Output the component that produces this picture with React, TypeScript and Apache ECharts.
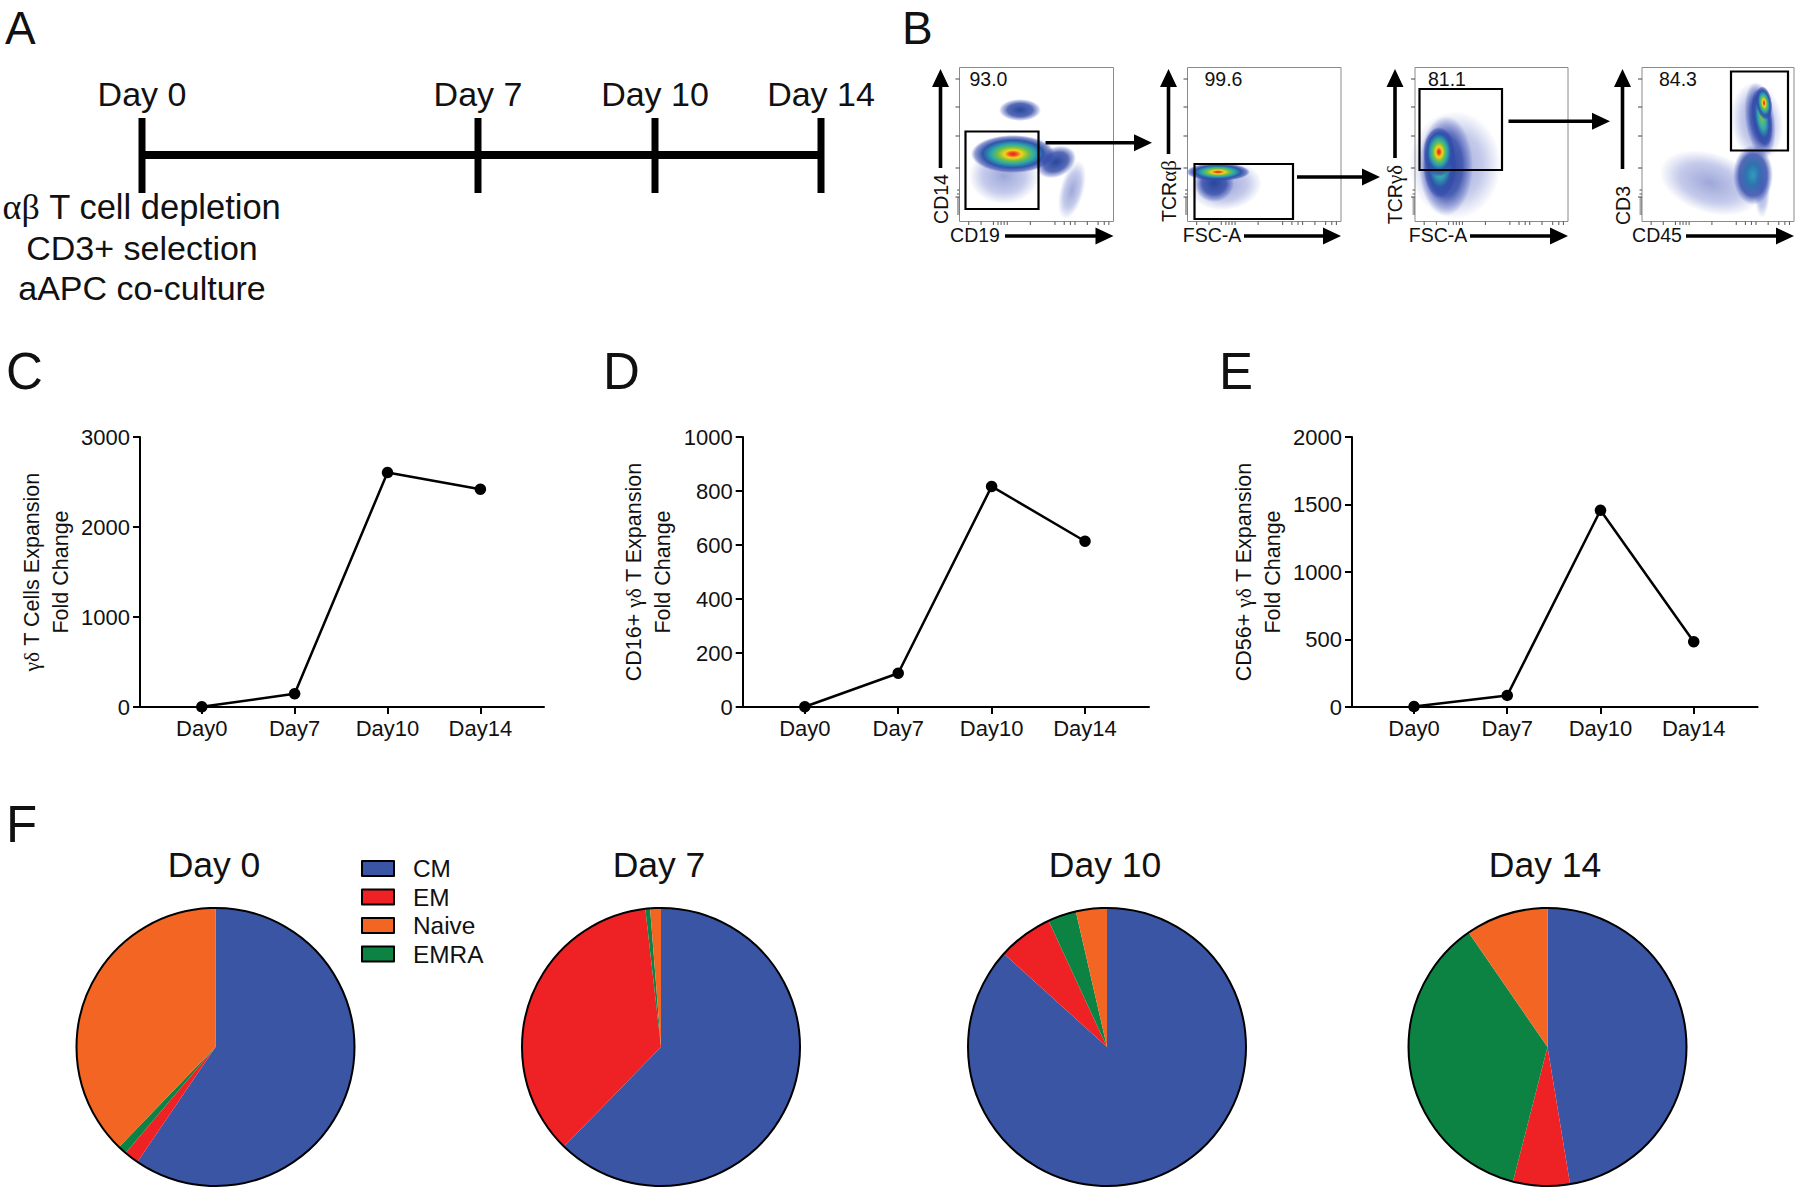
import React, { useEffect, useRef } from "react";
import * as echarts from "echarts";

const timePoints = ["Day0", "Day7", "Day10", "Day14"];
const gdExpansion = [2, 148, 2605, 2420];
const cd16Expansion = [1, 125, 817, 614];
const cd56Expansion = [3, 86, 1457, 484];

const subsets = ["CM", "EM", "EMRA", "Naive"];
const legendOrder = ["CM", "EM", "Naive", "EMRA"];
const subsetColors = ["#3A55A4", "#EE2224", "#0C8343", "#F36523"];
const pieTitles = ["Day 0", "Day 7", "Day 10", "Day 14"];
const day0Shares = [59.5, 1.7, 1.0, 37.8];
const day7Shares = [62.3, 35.9, 0.55, 1.25];
const day10Shares = [86.7, 6.4, 3.3, 3.6];
const day14Shares = [47.4, 6.6, 36.4, 9.6];

const timelineLabels = ["Day 0", "Day 7", "Day 10", "Day 14"];
const gatePercents = ["93.0", "99.6", "81.1", "84.3"];

const SANS = '"Liberation Sans", Arial, sans-serif';
const SERIF = '"Liberation Serif", serif';
const INK = "#111111";

function txt(text: string, x: number, y: number, fontSize: number, extra: any = {}) {
  const { rotation, rich, align, ...rest } = extra;
  return {
    type: "text",
    x,
    y,
    rotation: rotation || 0,
    z: 20,
    style: {
      text,
      fill: INK,
      fontFamily: SANS,
      fontSize,
      align: align || "center",
      verticalAlign: "middle",
      rich,
      ...rest,
    },
  };
}

function hArrow(x1: number, x2: number, y: number, th = 3.6, hl = 18, hw = 17) {
  return {
    type: "polygon",
    z: 20,
    shape: {
      points: [
        [x1, y - th / 2],
        [x2 - hl, y - th / 2],
        [x2 - hl, y - hw / 2],
        [x2, y],
        [x2 - hl, y + hw / 2],
        [x2 - hl, y + th / 2],
        [x1, y + th / 2],
      ],
    },
    style: { fill: "#000" },
  };
}

function vArrow(x: number, y1: number, y2: number, th = 3.6, hl = 18, hw = 17) {
  return {
    type: "polygon",
    z: 20,
    shape: {
      points: [
        [x - th / 2, y1],
        [x - th / 2, y2 + hl],
        [x - hw / 2, y2 + hl],
        [x, y2],
        [x + hw / 2, y2 + hl],
        [x + th / 2, y2 + hl],
        [x + th / 2, y1],
      ],
    },
    style: { fill: "#000" },
  };
}

function bar(x1: number, y1: number, x2: number, y2: number, w: number, color = "#000", z = 15) {
  return { type: "line", z, shape: { x1, y1, x2, y2 }, style: { stroke: color, lineWidth: w } };
}

const STOPS: Record<string, [number, string][]> = {
  hot: [
    [0, "#e3201f"],
    [0.1, "#ef5a20"],
    [0.2, "#f3d31c"],
    [0.36, "#74c043"],
    [0.52, "#2aa6ae"],
    [0.72, "#2f56a8"],
    [0.9, "rgba(50,70,170,0.55)"],
    [1, "rgba(60,80,190,0)"],
  ],
  warm: [
    [0, "#7cc242"],
    [0.35, "#35abb0"],
    [0.65, "#2f56a8"],
    [0.88, "rgba(50,70,170,0.55)"],
    [1, "rgba(60,80,190,0)"],
  ],
  blue: [
    [0, "#27479c"],
    [0.6, "rgba(45,70,165,0.8)"],
    [0.85, "rgba(60,80,180,0.35)"],
    [1, "rgba(60,80,190,0)"],
  ],
  cyan: [
    [0, "#2f9dbb"],
    [0.35, "#2f73b0"],
    [0.7, "rgba(45,70,165,0.8)"],
    [1, "rgba(60,80,190,0)"],
  ],
  haze: [
    [0, "rgba(60,80,180,0.5)"],
    [0.6, "rgba(70,90,190,0.32)"],
    [1, "rgba(70,90,190,0)"],
  ],
};

function blob(cx: number, cy: number, rx: number, ry: number, kind: string, rotDeg = 0) {
  return {
    type: "ellipse",
    x: cx,
    y: cy,
    rotation: (rotDeg * Math.PI) / 180,
    z: 5,
    shape: { cx: 0, cy: 0, rx, ry },
    style: {
      fill: new echarts.graphic.RadialGradient(
        0.5,
        0.5,
        0.5,
        STOPS[kind].map(([offset, color]) => ({ offset, color }))
      ),
    },
  };
}

function frame(x1: number, x2: number) {
  return {
    type: "rect",
    z: 6,
    shape: { x: x1, y: 67.5, width: x2 - x1, height: 154 },
    style: { fill: "none", stroke: "#8a8a8a", lineWidth: 1 },
  };
}

function gate(x1: number, y1: number, x2: number, y2: number) {
  return {
    type: "rect",
    z: 12,
    shape: { x: x1, y: y1, width: x2 - x1, height: y2 - y1 },
    style: { fill: "none", stroke: "#000", lineWidth: 2.2 },
  };
}

function frameTicks(x1: number, x2: number) {
  const out: any[] = [];
  [11.5, 39.5, 68.5, 100.5, 129.5].forEach((d) => out.push(bar(x1 - 4, 67.5 + d, x1, 67.5 + d, 1, "#444", 7)));
  [4, 8, 12, 14, 16, 18, 20, 22, 24, 26, 28].forEach((d) =>
    out.push(bar(x1 - 2.5, 186 + d, x1, 186 + d, 1, "#555", 7))
  );
  const w = x2 - x1;
  [0.06, 0.14, 0.22, 0.25, 0.27, 0.29, 0.31, 0.46, 0.62, 0.68, 0.72, 0.75, 0.83, 0.9, 0.94, 0.97].forEach((f) =>
    out.push(bar(x1 + w * f, 221.5, x1 + w * f, 225, 1, "#555", 7))
  );
  return out;
}

function panelA() {
  const ticks = [142, 478, 655, 821];
  const parts: any[] = [bar(142, 155, 821, 155, 8)];
  ticks.forEach((x, i) => {
    parts.push(bar(x, 118, x, 193, 7));
    parts.push(txt(timelineLabels[i], x, 94, 34));
  });
  parts.push(
    txt("{s|αβ} T cell depletion", 142, 207, 34.5, {
      rich: { s: { fontFamily: SERIF, fontSize: 36, fill: INK } },
    })
  );
  parts.push(txt("CD3+ selection", 142, 248, 34));
  parts.push(txt("aAPC co-culture", 142, 288, 34));
  return parts;
}

function panelB() {
  const parts: any[] = [];
  const sr = { s: { fontFamily: SERIF, fontSize: 21, fill: INK } };
  // density clouds
  parts.push(
    blob(1020, 110, 21, 11, "blue"),
    blob(1004, 176, 35, 28, "haze"),
    blob(1013, 154, 42, 19, "hot"),
    blob(1056, 162, 21, 15, "blue", 25),
    blob(1072, 190, 12, 30, "haze", -15),

    blob(1226, 186, 36, 24, "haze", 8),
    blob(1214, 183, 20, 19, "blue"),
    blob(1218, 172, 32, 9, "hot"),

    blob(1455, 165, 46, 54, "haze"),
    blob(1446, 166, 27, 50, "blue"),
    blob(1440, 165, 17, 34, "warm"),
    blob(1439, 152, 16, 25, "hot"),

    blob(1710, 183, 52, 30, "haze", -18),
    blob(1753, 175, 20, 30, "cyan"),
    blob(1762, 190, 8, 28, "haze"),
    blob(1757, 122, 26, 40, "haze", 8),
    blob(1760, 120, 15, 38, "blue", 8),
    blob(1762, 118, 10, 30, "warm", 8),
    blob(1764, 103, 8, 17, "hot", 8)
  );
  // frames, gates and their ticks
  const frames: [number, number][] = [
    [959.5, 1113.5],
    [1187.5, 1341],
    [1415, 1568],
    [1642, 1794],
  ];
  frames.forEach(([a, b]) => {
    parts.push(frame(a, b), ...frameTicks(a, b));
  });
  parts.push(
    gate(965.5, 131.5, 1038.5, 209),
    gate(1194.5, 164, 1293, 219),
    gate(1419.5, 89, 1502, 170),
    gate(1731, 71.5, 1788, 150.5)
  );
  // percentages
  const pctX = [969.5, 1204.5, 1428, 1659];
  gatePercents.forEach((p, i) => parts.push(txt(p, pctX[i], 79, 19.5, { align: "left" })));
  // arrows between panels
  parts.push(hArrow(1045.5, 1152, 142.7), hArrow(1297, 1380, 177), hArrow(1508.5, 1610, 121.3));
  // axis arrows
  parts.push(vArrow(940.5, 168, 69), vArrow(1168.5, 154, 69), vArrow(1395, 158, 69), vArrow(1622.5, 169, 69));
  parts.push(hArrow(1005, 1113.5, 236), hArrow(1244, 1341, 236), hArrow(1470, 1568, 236), hArrow(1686, 1794, 236));
  // axis labels
  const up = Math.PI / 2;
  parts.push(
    txt("CD14", 940.5, 199, 19.5, { rotation: up }),
    txt("TCR{s|αβ}", 1168.5, 191, 19.5, { rotation: up, rich: sr }),
    txt("TCR{s|γδ}", 1395, 194.5, 19.5, { rotation: up, rich: sr }),
    txt("CD3", 1622.5, 205.5, 19.5, { rotation: up }),
    txt("CD19", 975, 235, 19.5),
    txt("FSC-A", 1212, 235, 19.5),
    txt("FSC-A", 1438, 235, 19.5),
    txt("CD45", 1657, 235, 19.5)
  );
  return parts;
}

function letters() {
  const items: [string, number, number, number][] = [
    ["A", 5, 27.5, 46],
    ["B", 902, 27.5, 46],
    ["C", 6, 371, 51],
    ["D", 603, 371, 51],
    ["E", 1219, 371, 51],
    ["F", 6, 824, 51],
  ];
  return items.map(([t, x, y, size]) => txt(t, x, y, size, { align: "left" }));
}

function App() {
  const ref = useRef<HTMLDivElement>(null);
  useEffect(() => {
    if (!ref.current) return;
    const chart = echarts.init(ref.current, undefined, { renderer: "svg" });
    const nameRich = {
      s: { fontFamily: SERIF, fontSize: 21.5, fill: INK },
      n: { fontFamily: SANS, fontSize: 21.5, fill: INK },
    };
    const panels = [
      {
        left: 140,
        width: 404,
        max: 3000,
        interval: 1000,
        values: gdExpansion,
        name: "{s|γδ} {n|T Cells Expansion}\n{n|Fold Change}",
      },
      {
        left: 742.7,
        width: 406.3,
        max: 1000,
        interval: 200,
        values: cd16Expansion,
        name: "{n|CD16+ }{s|γδ} {n|T Expansion}\n{n|Fold Change}",
      },
      {
        left: 1352,
        width: 405.6,
        max: 2000,
        interval: 500,
        values: cd56Expansion,
        name: "{n|CD56+ }{s|γδ} {n|T Expansion}\n{n|Fold Change}",
      },
    ];
    const axisLine = { show: true, onZero: false, lineStyle: { color: "#000", width: 2 } };
    const axisTick = { show: true, length: 7, lineStyle: { color: "#000", width: 2 } };
    const label = { color: INK, fontFamily: SANS, fontSize: 22 };
    const idx = timePoints.map((_, i) => i);

    const pieCenters = [215.5, 661, 1107, 1547.5];
    const pieShares = [day0Shares, day7Shares, day10Shares, day14Shares];
    const titleX = [209, 654, 1100, 1540];

    chart.setOption({
      animation: false,
      backgroundColor: "#fff",
      title: pieTitles.map((text, i) => ({
        text,
        left: titleX[i],
        top: 842,
        textAlign: "center",
        textStyle: { color: INK, fontFamily: SANS, fontSize: 35.5, fontWeight: "normal" },
      })),
      legend: {
        data: legendOrder,
        orient: "vertical",
        left: 356,
        top: 851.5,
        itemWidth: 32,
        itemHeight: 15,
        itemGap: 4.5,
        itemStyle: { borderColor: "#000", borderWidth: 2 },
        textStyle: { color: INK, fontFamily: SANS, fontSize: 24.4, padding: [0, 0, 0, 14] },
        selectedMode: false,
        icon: "rect",
      },
      grid: panels.map((p) => ({ left: p.left, width: p.width, top: 437, height: 270 })),
      xAxis: panels.map((_, i) => ({
        type: "value",
        gridIndex: i,
        min: -0.665,
        max: 3.685,
        splitLine: { show: false },
        axisLine,
        axisTick: { ...axisTick, customValues: idx },
        axisLabel: {
          ...label,
          margin: 10,
          customValues: idx,
          formatter: (v: number) => timePoints[v] ?? "",
        },
      })),
      yAxis: panels.map((p, i) => ({
        type: "value",
        gridIndex: i,
        min: 0,
        max: p.max,
        interval: p.interval,
        splitLine: { show: false },
        axisLine,
        axisTick,
        axisLabel: { ...label, margin: 10, formatter: (v: number) => String(v) },
        name: p.name,
        nameLocation: "middle",
        nameGap: 65,
        nameRotate: 90,
        nameTextStyle: { color: INK, fontFamily: SANS, fontSize: 21.5, lineHeight: 29, rich: nameRich },
      })),
      series: [
        ...panels.map((p, i) => ({
          type: "line",
          xAxisIndex: i,
          yAxisIndex: i,
          data: p.values.map((v, k) => [k, v]),
          symbol: "circle",
          symbolSize: 11.5,
          clip: false,
          lineStyle: { color: "#000", width: 2.5 },
          itemStyle: { color: "#000" },
          z: 5,
        })),
        ...pieShares.map((shares, i) => ({
          type: "pie",
          name: pieTitles[i],
          center: [pieCenters[i], 1047],
          radius: [0, 139],
          startAngle: 90,
          clockwise: true,
          label: { show: false },
          labelLine: { show: false },
          emphasis: { disabled: true },
          data: subsets.map((name, k) => ({
            name,
            value: shares[k],
            itemStyle: { color: subsetColors[k] },
          })),
        })),
      ],
      graphic: [
        ...letters(),
        ...panelA(),
        ...panelB(),
        ...pieCenters.map((cx) => ({
          type: "circle",
          z: 10,
          shape: { cx, cy: 1047, r: 139 },
          style: { fill: "none", stroke: "#000", lineWidth: 2 },
        })),
      ],
    });
    return () => chart.dispose();
  }, []);
  return (
    <div
      ref={ref}
      style={{ position: "absolute", left: 0, top: 0, width: 1800, height: 1191 }}
    />
  );
}

export default App;
